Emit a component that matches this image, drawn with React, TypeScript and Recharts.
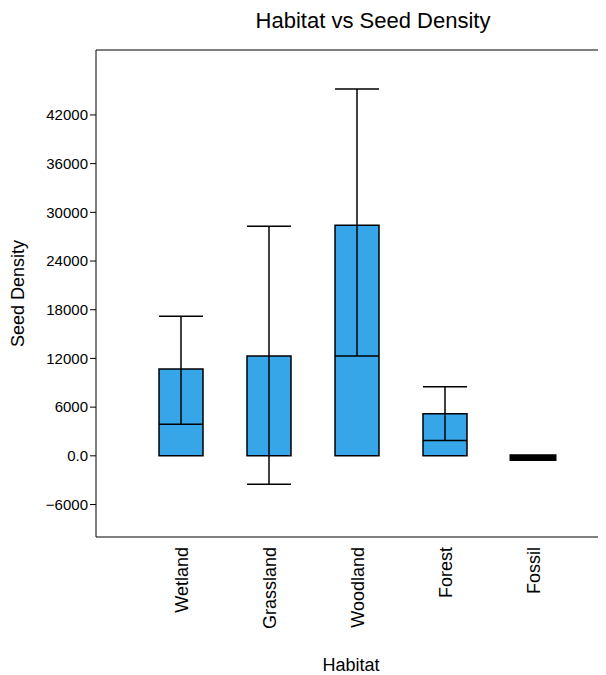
import { BarChart, Bar, XAxis, YAxis, ErrorBar, ReferenceLine, Label, Cell } from 'recharts'

const habitats = ['Wetland', 'Grassland', 'Woodland', 'Forest', 'Fossil']
const means = [10700, 12300, 28400, 5200, -450]
const errLow = [6800, 15800, 16100, 3300, 0]
const errHigh = [6500, 16000, 16800, 3300, 0]
const yTicks = [-6000, 0, 6000, 12000, 18000, 24000, 30000, 36000, 42000]

const data = habitats.map((h, i) => ({ habitat: h, mean: means[i], err: [errLow[i], errHigh[i]] }))

const font = 'Liberation Sans, Arial, sans-serif'

export default function App() {
  return (
    <div style={{ fontFamily: font }}>
      <div style={{ position: 'absolute', left: 0, top: 8, width: 606, textAlign: 'center', fontSize: 22, paddingLeft: 140, boxSizing: 'border-box', color: '#000' }}>
        Habitat vs Seed Density
      </div>
      <BarChart width={598} height={667} data={data} margin={{ top: 42, right: 0, left: 18, bottom: 38 }} barSize={44}>
        <ReferenceLine y={50000} stroke="#000" />
        <XAxis
          dataKey="habitat"
          stroke="#000"
          tickLine={false}
          padding={{ left: 41, right: 29 }}
          height={100}
          interval={0}
          tick={({ x, y, payload }: any) => (
            <text x={x + 7} y={y + 2} transform={`rotate(-90 ${x + 7} ${y + 2})`} textAnchor="end" fontSize={18} fill="#000" fontFamily={font}>
              {payload.value}
            </text>
          )}
        >
          <Label value="Habitat" position="insideBottom" offset={-34} fill="#000" fontSize={18} />
        </XAxis>
        <YAxis
          type="number"
          domain={[-10000, 50000]}
          ticks={yTicks}
          width={70}
          stroke="#000"
          tickSize={6}
          tick={{ fill: '#000', fontSize: 15 }}
          tickFormatter={(v: number) => (v === 0 ? '0.0' : v < 0 ? '\u2212' + Math.abs(v) : String(v))}
        >
          <Label value="Seed Density" angle={-90} position="insideLeft" offset={-8} fill="#000" fontSize={18} style={{ textAnchor: 'middle' }} />
        </YAxis>
        <Bar dataKey="mean" fill="#37a6e9" stroke="#000" strokeWidth={1.5} isAnimationActive={false}>
          {data.map((d, i) => (
            <Cell key={i} fill={d.habitat === 'Fossil' ? '#000' : '#37a6e9'} strokeWidth={d.habitat === 'Fossil' ? 3 : 1.5} />
          ))}
          <ErrorBar dataKey="err" width={22} stroke="#000" strokeWidth={1.5} />
        </Bar>
      </BarChart>
    </div>
  )
}
